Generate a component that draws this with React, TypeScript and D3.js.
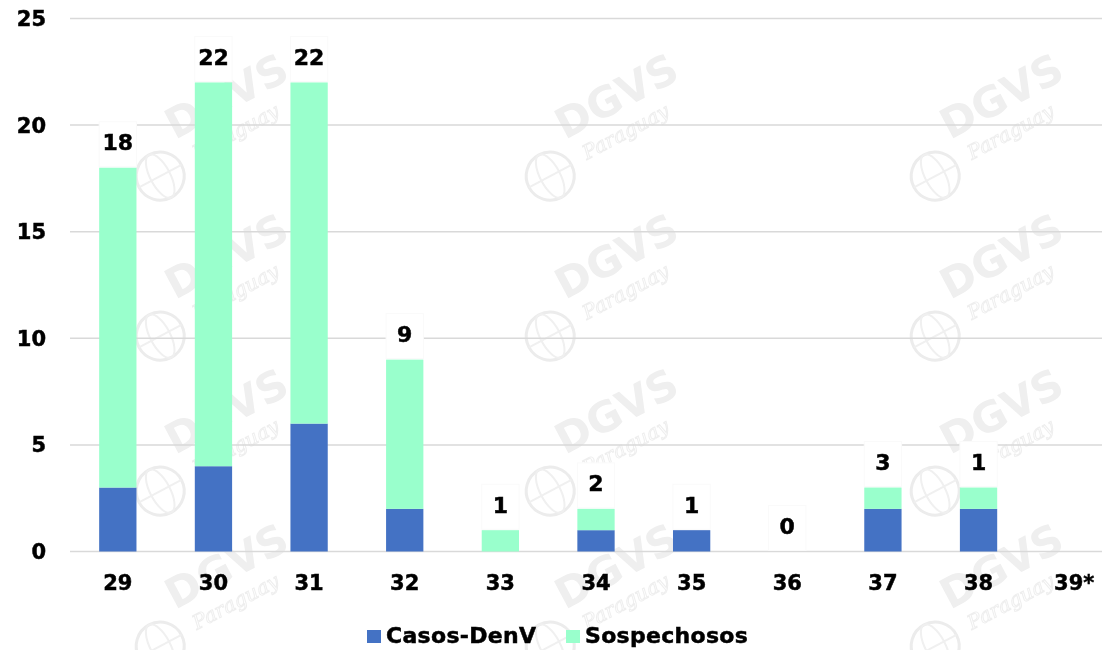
import React from "react";
import * as d3 from "d3";

const categories = ["29", "30", "31", "32", "33", "34", "35", "36", "37", "38", "39*"];
const casosDenV = [3, 4, 6, 2, 0, 1, 1, 0, 2, 2, 0];
const sospechosos = [15, 18, 16, 7, 1, 1, 0, 0, 1, 1, 0];
const labelTexts = ["18", "22", "22", "9", "1", "2", "1", "0", "3", "1", ""];
const yTicks = [0, 5, 10, 15, 20, 25];
const seriesNames = ["Casos-DenV", "Sospechosos"];
const seriesColors = ["#4472C4", "#99FFCC"];

const W = 1102;
const H = 650;
const FONT = "'DejaVu Sans', sans-serif";
const textStyle = { fontFamily: FONT, fontWeight: 700, fill: "#000", stroke: "#000", strokeWidth: 0.5 } as const;

export default function App() {
  const x = d3.scaleBand<string>().domain(categories).range([70, 1122]).paddingInner(0.61).paddingOuter(0.305);
  const y = d3.scaleLinear().domain([0, 25]).range([551.5, 18.5]);

  const rows = categories.map((c, i) => ({ cat: c, casos: casosDenV[i], sosp: sospechosos[i] }));
  const stack = d3.stack<any>().keys(["casos", "sosp"])(rows);

  const wmCols = [210, 600, 985];
  const wmRows = [110, 270, 425, 580];

  return (
    <svg width={W} height={H} style={{ position: "absolute", left: 0, top: 0, background: "#fff" }}>
      {/* watermark */}
      <g opacity={0.5}>
        {wmRows.map((wy, ri) =>
          wmCols.map((wx, ci) => (
            <g key={`${ri}-${ci}`} transform={`translate(${wx},${wy}) rotate(-28)`}>
              <circle cx={-75} cy={35} r={24} fill="none" stroke="#d8d8d8" strokeWidth={3} />
              <ellipse cx={-75} cy={35} rx={10} ry={24} fill="none" stroke="#e0e0e0" strokeWidth={2} />
              <line x1={-99} x2={-51} y1={35} y2={35} stroke="#e0e0e0" strokeWidth={2} />
              <text x={-45} y={10} fontFamily={FONT} fontWeight={700} fontSize={42} fill="#dedede">DGVS</text>
              <text x={-35} y={38} fontFamily="'DejaVu Serif', serif" fontStyle="italic" fontSize={20} fill="none" stroke="#dddddd" strokeWidth={1}>Paraguay</text>
            </g>
          ))
        )}
      </g>

      {/* gridlines */}
      {yTicks.map((t) => (
        <line key={t} x1={70} x2={1122} y1={y(t)} y2={y(t)} stroke="#d9d9d9" strokeWidth={1.5} />
      ))}

      {/* y tick labels */}
      {yTicks.map((t) => (
        <text key={t} x={46} y={y(t)} dy="0.36em" textAnchor="end" fontSize={21} {...textStyle}>
          {t}
        </text>
      ))}

      {/* label backgrounds */}
      {rows.map((r, i) => {
        if (!labelTexts[i]) return null;
        const top = y(r.casos + r.sosp);
        return (
          <rect key={`bg${i}`} x={x(r.cat)} y={top - 46} width={x.bandwidth()} height={45} fill="#fff" stroke="#fafafa" strokeWidth={1} />
        );
      })}

      {/* bars */}
      {stack.map((s, si) => (
        <g key={si} fill={seriesColors[si]}>
          {s.map((d: any, i: number) =>
            d[1] - d[0] > 0 ? (
              <rect key={i} x={x(categories[i])} y={y(d[1])} width={x.bandwidth()} height={y(d[0]) - y(d[1])} />
            ) : null
          )}
        </g>
      ))}

      {/* value labels */}
      {rows.map((r, i) => (
        <text key={`l${i}`} x={(x(r.cat) as number) + x.bandwidth() / 2} y={y(r.casos + r.sosp) - 17.5} textAnchor="middle" fontSize={22} {...textStyle}>
          {labelTexts[i]}
        </text>
      ))}

      {/* x labels */}
      {categories.map((c) => (
        <text key={c} x={(x(c) as number) + x.bandwidth() / 2} y={590} textAnchor="middle" fontSize={21} {...textStyle}>
          {c}
        </text>
      ))}

      {/* legend */}
      <g>
        <rect x={367} y={630} width={14} height={13} fill={seriesColors[0]} />
        <text x={386} y={643} fontSize={22} letterSpacing={0.3} {...textStyle}>{seriesNames[0]}</text>
        <rect x={566} y={630} width={14} height={13} fill={seriesColors[1]} />
        <text x={585} y={643} fontSize={22} letterSpacing={0.3} {...textStyle}>{seriesNames[1]}</text>
      </g>
    </svg>
  );
}
